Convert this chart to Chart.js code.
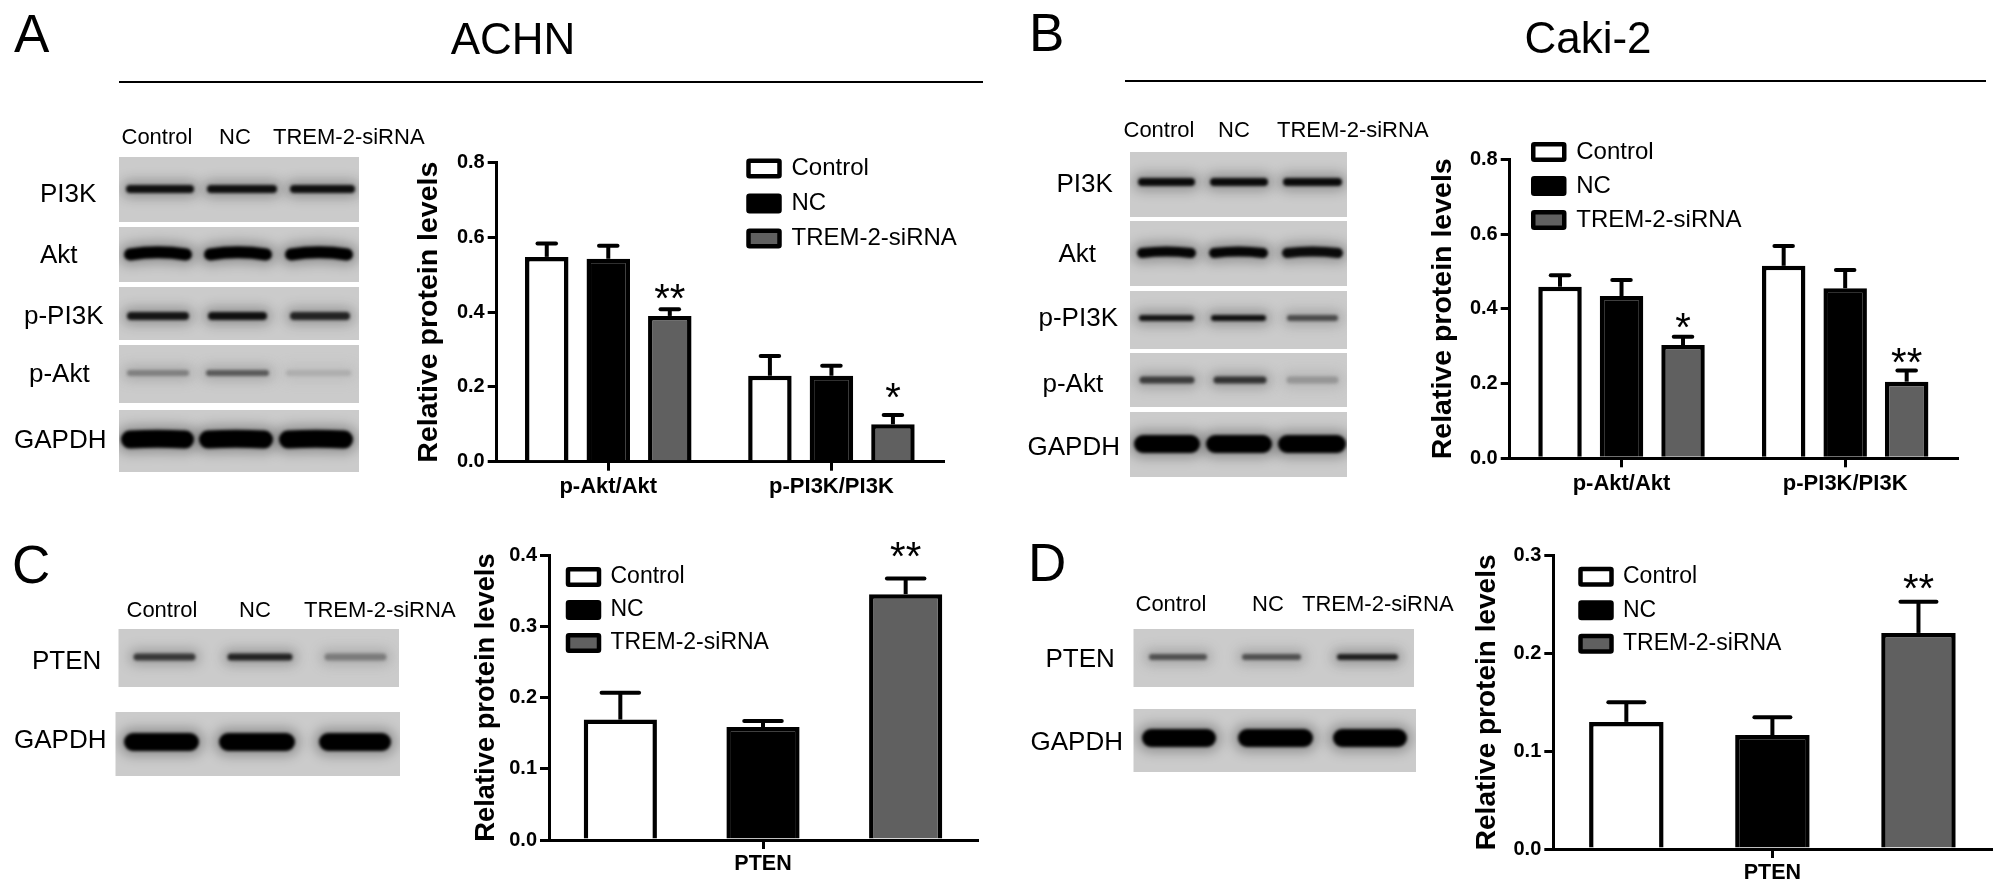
<!DOCTYPE html>
<html>
<head>
<meta charset="utf-8">
<script src="https://cdn.jsdelivr.net/npm/chart.js@4/dist/chart.umd.min.js"></script>
<style>
html,body{margin:0;padding:0;background:#fff;width:2008px;height:892px;overflow:hidden}
#stage{position:relative;width:2008px;height:892px;font-family:"Liberation Sans",Arial,sans-serif;color:#000}
canvas{position:absolute}
.t{position:absolute;white-space:nowrap;line-height:1;transform:translateY(-50%)}
.r{position:absolute;background:#000}
</style>
</head>
<body>
<div id="stage"><canvas id="blots" width="2008" height="892" style="left:0;top:0"></canvas></div>
<script>
/* ---------- data ---------- */
const seriesNames = ['Control', 'NC', 'TREM-2-siRNA'];
const groupsPathway = ['p-Akt/Akt', 'p-PI3K/PI3K'];
const groupsPten = ['PTEN'];

const achnControl = [0.548, 0.230], achnControlTop = [0.584, 0.283];
const achnNC      = [0.543, 0.230], achnNCTop      = [0.578, 0.257];
const achnSi      = [0.390, 0.100], achnSiTop      = [0.408, 0.125];
const achnStars   = ['**', '*'],    achnStarAt     = [0.459, 0.194];

const cakiControl = [0.459, 0.515], cakiControlTop = [0.490, 0.568];
const cakiNC      = [0.434, 0.455], cakiNCTop      = [0.477, 0.504];
const cakiSi      = [0.303, 0.205], cakiSiTop      = [0.325, 0.235];
const cakiStars   = ['*', '**'],    cakiStarAt     = [0.371, 0.278];

const ptenAchnControl = [0.169],  ptenAchnControlTop = [0.2065];
const ptenAchnNC      = [0.1585], ptenAchnNCTop      = [0.167];
const ptenAchnSi      = [0.345],  ptenAchnSiTop      = [0.367];
const ptenAchnStars   = ['**'],   ptenAchnStarAt     = [0.409];

const ptenCakiControl = [0.130],  ptenCakiControlTop = [0.150];
const ptenCakiNC      = [0.1166], ptenCakiNCTop      = [0.1347];
const ptenCakiSi      = [0.221],  ptenCakiSiTop      = [0.253];
const ptenCakiStars   = ['**'],   ptenCakiStarAt     = [0.2745];

const yTitle = 'Relative protein levels';

/* ---------- series styling ---------- */
const seriesFill = ['#ffffff', '#000000', '#606060'];

/* ---------- plugins ---------- */
const panelExtras = {
  id: 'panelExtras',
  afterLayout(chart, args, o) {
    const lg = chart.legend;
    lg.left = o.legendX - o.canvasLeft - o.legendPad;
    lg.right = lg.left + 400;
    lg.top = o.legendY - o.canvasTop - o.legendPad;
    lg.bottom = lg.top + 200;
  },
  afterDatasetsDraw(chart, args, o) {
    const ctx = chart.ctx, y = chart.scales.y;
    ctx.save();
    ctx.strokeStyle = '#000';
    ctx.fillStyle = '#000';
    chart.data.datasets.forEach((ds, di) => {
      chart.getDatasetMeta(di).data.forEach((bar, i) => {
        const yt = y.getPixelForValue(o.tops[di][i]);
        const yb = y.getPixelForValue(ds.data[i]);
        ctx.lineWidth = 4; ctx.lineCap = 'butt';
        ctx.beginPath(); ctx.moveTo(bar.x, yt); ctx.lineTo(bar.x, yb); ctx.stroke();
        ctx.lineCap = 'round';
        ctx.beginPath(); ctx.moveTo(bar.x - o.cap/2, yt); ctx.lineTo(bar.x + o.cap/2, yt); ctx.stroke();
      });
    });
    ctx.font = '40px "Liberation Sans"';
    ctx.textAlign = 'center';
    ctx.textBaseline = 'alphabetic';
    const last = chart.getDatasetMeta(2).data;
    o.stars.forEach((s, i) => {
      ctx.fillText(s, last[i].x, y.getPixelForValue(o.starAt[i]) + 21.5);
    });
    ctx.restore();
  }
};

function makePanel(p) {
  const cv = document.createElement('canvas');
  const extra = 32;
  const canvasLeft = Math.round(p.titleX - 17), canvasTop = Math.floor(p.yTop - 30);
  const topPad = p.yTop - canvasTop;
  cv.width = Math.ceil(p.right) + extra - canvasLeft;
  cv.height = Math.ceil(p.y0 + 48) - canvasTop;
  cv.style.left = canvasLeft + 'px';
  cv.style.top = canvasTop + 'px';
  document.getElementById('stage').appendChild(cv);
  const xH = cv.height - (p.y0 - canvasTop);
  new Chart(cv, {
    type: 'bar',
    data: {
      labels: p.labels,
      datasets: seriesNames.map((n, i) => ({
        label: n,
        data: p.values[i],
        backgroundColor: seriesFill[i],
        borderColor: '#000',
        borderWidth: p.bw,
        borderSkipped: 'bottom',
        categoryPercentage: p.cat,
        barPercentage: p.bar
      }))
    },
    options: {
      responsive: false, animation: false, devicePixelRatio: 1,
      layout: { padding: { top: topPad, right: cv.width + canvasLeft - p.right, bottom: 0, left: 0 } },
      plugins: {
        tooltip: { enabled: false },
        title: { display: false },
        legend: {
          position: 'chartArea', align: 'start', reverse: false,
          labels: {
            boxWidth: 31, boxHeight: 15.5, padding: p.legendPad,
            color: '#000', useBorderRadius: true, borderRadius: 1,
            font: { family: '"Liberation Sans"', size: p.legendFont }
          }
        },
        panelExtras: {
          canvasLeft, canvasTop, legendX: p.legendX, legendY: p.legendY, legendPad: p.legendPad,
          tops: p.tops, stars: p.stars, starAt: p.starAt, cap: p.cap
        }
      },
      scales: {
        x: {
          grid: { display: true, offset: false, drawOnChartArea: false, drawTicks: true, tickLength: 9, color: '#000', lineWidth: 3 },
          border: { display: true, color: '#000', width: 3 },
          ticks: { color: '#000', padding: p.xPad, maxRotation: 0, font: { family: '"Liberation Sans"', weight: 'bold', size: p.xFont } },
          afterFit(s) { s.height = xH; }
        },
        y: {
          min: 0, max: p.max,
          grid: { display: true, drawOnChartArea: false, drawTicks: true, tickLength: 9, color: '#000', lineWidth: 3 },
          border: { display: true, color: '#000', width: 3 },
          ticks: { color: '#000', stepSize: p.step, padding: 3, callback: v => v.toFixed(1), font: { family: '"Liberation Sans"', weight: 'bold', size: 20 } },
          title: { display: true, text: yTitle, color: '#000', padding: 0, font: { family: '"Liberation Sans"', weight: 'bold', size: p.titleFont, lineHeight: 1.2 } },
          afterFit(s) { s.width = p.axisX - canvasLeft; }
        }
      }
    },
    plugins: [panelExtras]
  });
}

makePanel({ labels: groupsPathway, values: [achnControl, achnNC, achnSi], tops: [achnControlTop, achnNCTop, achnSiTop],
  stars: achnStars, starAt: achnStarAt, max: 0.8, step: 0.2,
  axisX: 496.7, right: 943, yTop: 162.7, y0: 461.7, titleX: 429, titleFont: 28.5,
  cat: 0.827, bar: 0.707, bw: 4.5, cap: 18.5, xPad: 3, xFont: 22,
  legendX: 748.5, legendY: 156.5, legendPad: 11, legendFont: 24 });

makePanel({ labels: groupsPathway, values: [cakiControl, cakiNC, cakiSi], tops: [cakiControlTop, cakiNCTop, cakiSiTop],
  stars: cakiStars, starAt: cakiStarAt, max: 0.8, step: 0.2,
  axisX: 1509.7, right: 1957, yTop: 159.3, y0: 458.3, titleX: 1442.6, titleFont: 28.5,
  cat: 0.825, bar: 0.707, bw: 4.5, cap: 18.5, xPad: 3, xFont: 22,
  legendX: 1533.25, legendY: 140, legendPad: 10, legendFont: 24 });

makePanel({ labels: groupsPten, values: [ptenAchnControl, ptenAchnNC, ptenAchnSi], tops: [ptenAchnControlTop, ptenAchnNCTop, ptenAchnSiTop],
  stars: ptenAchnStars, starAt: ptenAchnStarAt, max: 0.4, step: 0.1,
  axisX: 549, right: 977, yTop: 555, y0: 840, titleX: 486.6, titleFont: 27.3,
  cat: 1.0, bar: 0.513, bw: 4.5, cap: 37.5, xPad: 2, xFont: 21.5,
  legendX: 568, legendY: 565.5, legendPad: 10, legendFont: 23 });

makePanel({ labels: groupsPten, values: [ptenCakiControl, ptenCakiNC, ptenCakiSi], tops: [ptenCakiControlTop, ptenCakiNCTop, ptenCakiSiTop],
  stars: ptenCakiStars, starAt: ptenCakiStarAt, max: 0.3, step: 0.1,
  axisX: 1553.3, right: 1991.5, yTop: 555.7, y0: 849, titleX: 1487.4, titleFont: 28,
  cat: 1.0, bar: 0.51, bw: 4.5, cap: 36, xPad: 2, xFont: 21.5,
  legendX: 1580.5, legendY: 565.2, legendPad: 10.5, legendFont: 23 });

/* ---------- panel text ---------- */
function text(s, x, y, size, anchor) {
  const d = document.createElement('div');
  d.className = 't';
  d.textContent = s;
  d.style.fontSize = size + 'px';
  d.style.top = y + 'px';
  if (anchor === 'c') { d.style.left = x + 'px'; d.style.transform = 'translate(-50%,-50%)'; }
  else d.style.left = x + 'px';
  document.getElementById('stage').appendChild(d);
}
[['A',14,33],['B',1029,31.5],['C',12,564],['D',1028,562]].forEach(a => text(a[0], a[1], a[2], 53));
text('ACHN', 513, 39, 44, 'c');
text('Caki-2', 1588, 38, 44, 'c');
[[118.5,81,864.5],[1124.5,80,861]].forEach(l => {
  const d = document.createElement('div');
  d.className = 'r';
  d.style.cssText = `left:${l[0]}px;top:${l[1]}px;width:${l[2]}px;height:2px`;
  document.getElementById('stage').appendChild(d);
});
const laneLabels = [
  ['Control',121.5,137],['NC',219,137],['TREM-2-siRNA',273,137],
  ['Control',1123.5,130],['NC',1218,130],['TREM-2-siRNA',1277,130],
  ['Control',126.5,610],['NC',239,610],['TREM-2-siRNA',304,610],
  ['Control',1135.5,604],['NC',1252,604],['TREM-2-siRNA',1302,604]
];
laneLabels.forEach(l => text(l[0], l[1], l[2], 22));
const rowLabels = [
  ['PI3K',40,193],['Akt',40,254],['p-PI3K',24,315],['p-Akt',29,373],['GAPDH',14,439],
  ['PI3K',1056.5,183],['Akt',1058.5,253],['p-PI3K',1038.5,317],['p-Akt',1042.5,383],['GAPDH',1027.5,446],
  ['PTEN',32,660],['GAPDH',14,739],
  ['PTEN',1045.5,658],['GAPDH',1030.5,741]
];
rowLabels.forEach(l => text(l[0], l[1], l[2], 26));

/* ---------- western-blot photographs (decorative, not data) ---------- */
const blots = [
  /* [x, y, w, h, bandY, thickness, bow, [[x1,x2,grey],...]] */
  [119,157,240,65,189,8,0,[[130,190,15],[211,273,15],[294,351,15]]],
  [119,227,240,55,253,12,3,[[130,186,0],[210,266,0],[291,347,0]]],
  [119,287,240,53,316,8,0,[[131,185,20],[212,263,15],[294,346,35]]],
  [119,345,240,58,373,6,0,[[130,186,105],[209,266,90],[289,348,165]]],
  [119,410,240,62,439,18,1,[[130,185,0],[208,264,0],[288,344,0]]],
  [1130,152,217,65,182,8,0,[[1142,1191,10],[1214,1264,10],[1287,1338,10]]],
  [1130,221,217,65,252,10,2,[[1142,1191,5],[1214,1263,5],[1287,1338,10]]],
  [1130,291,217,58,318,6,0,[[1142,1191,20],[1214,1263,15],[1290,1335,75]]],
  [1130,353,217,54,380,7,0,[[1143,1191,60],[1217,1263,50],[1290,1335,135]]],
  [1130,412,217,65,444,18,0,[[1143,1191,0],[1215,1263,0],[1287,1337,0]]],
  [118.5,629,280.5,58,657,7,0,[[137,192,55],[231,289,35],[328,383,100]]],
  [115.5,712,284.5,64,742,18,0,[[133,190,0],[228,286,0],[328,382,0]]],
  [1133.5,629,280.5,58,657,6,0,[[1152,1204,80],[1245,1298,80],[1340,1395,30]]],
  [1133.5,709,282.5,63,738,18,0,[[1151,1207,0],[1247,1304,0],[1342,1398,0]]]
];
const g = document.getElementById('blots').getContext('2d');
blots.forEach(b => {
  const [x, y, w, h, by, t, bow, bands] = b;
  g.save();
  g.fillStyle = '#cbcbcb';
  g.fillRect(x, y, w, h);
  g.beginPath(); g.rect(x, y, w, h); g.clip();
  bands.forEach(band => {
    const [x1, x2, c] = band;
    const draw = (lw, alpha, blur) => {
      g.filter = `blur(${blur}px)`;
      g.strokeStyle = `rgba(${c},${c},${c},${alpha})`;
      g.lineWidth = lw; g.lineCap = 'round';
      g.beginPath(); g.moveTo(x1, by + bow/2);
      g.quadraticCurveTo((x1+x2)/2, by - bow, x2, by + bow/2);
      g.stroke();
    };
    draw(t + 10, 0.28, 6);
    draw(t, c > 90 ? 0.7 : 1, 1.6);
  });
  g.restore();
});
</script>
</body>
</html>
